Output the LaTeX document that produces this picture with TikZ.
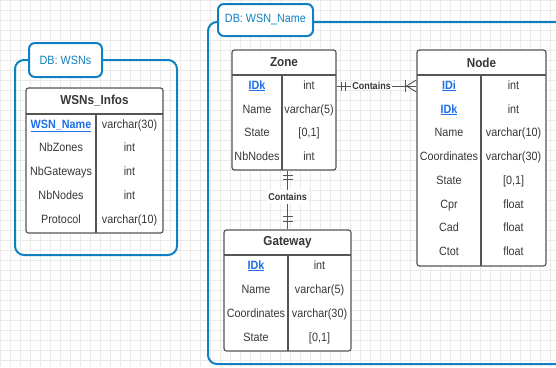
\documentclass[tikz,border=0pt]{standalone}
\usepackage{fontspec}
\setmainfont{Liberation Sans}[FakeStretch=0.9]
\usetikzlibrary{calc}
\definecolor{dbblue}{RGB}{16,128,194}
\definecolor{keyblue}{RGB}{30,110,230}
\definecolor{tblgray}{RGB}{85,85,85}
\definecolor{txtgray}{RGB}{55,55,55}
\newcommand{\pkey}[1]{\underline{#1}}
\tikzset{
  gridline/.style={draw=black!8, line width=0.5pt},
  dbbox/.style={draw=dbblue, line width=2pt, rounded corners=9pt},
  dbtab/.style={draw=dbblue, fill=white, line width=2pt, rounded corners=6pt, text=dbblue, font=\fontsize{12}{14}\selectfont},
  tbl/.style={draw=tblgray, fill=white, line width=1.2pt, rounded corners=2.5pt, inner sep=0pt},
  tline/.style={draw=tblgray, line width=1.2pt},
  hdr/.style={text=txtgray, font=\fontsize{13}{15}\selectfont\bfseries, inner sep=0pt},
  fld/.style={text=txtgray, font=\fontsize{12}{14}\selectfont, inner sep=0pt, text height=8.6pt, text depth=2.5pt},
  keyfld/.style={fld, text=keyblue, font=\fontsize{12}{14}\selectfont\bfseries},
  conn/.style={draw=tblgray, line width=0.9pt},
  rel/.style={fill=white, text=txtgray, font=\fontsize{10}{12}\selectfont\bfseries, inner sep=1pt}
}

\begin{document}
\begin{tikzpicture}[x=1pt, y=-1pt]
			%%%%% START %%%%%
			\useasboundingbox (0,0) rectangle (556,367);
			\clip (0,0) rectangle (556,367);
			\draw[gridline, step=10pt] (-2,-2) grid (556,367);
			
			% DB: WSNs
			\draw[dbbox] (15,60) rectangle (177,255);
			\node[dbtab, minimum width=73pt, minimum height=34pt] (wsns-tab) at (65.5,60) {DB: WSNs};
			
			\node[tbl, minimum width=137pt, minimum height=145pt] (infos) at (94.5,160.5) {};
			\draw[tline] (26,114) -- (163,114);
			\draw[tline] (96,114) -- (96,233);
			\node[hdr] (infos-h) at (94.5,101) {WSNs\_Infos};
			\node[keyfld] (infos-name) at (61,125) {\pkey{WSN\_Name}};
			\node[fld] (infos-name-t) at (129.5,125) {varchar(30)};
			\node[fld] (infos-zones) at (61,148) {NbZones};
			\node[fld] (infos-zones-t) at (129.5,148) {int};
			\node[fld] (infos-gws) at (61,172) {NbGateways};
			\node[fld] (infos-gws-t) at (129.5,172) {int};
			\node[fld] (infos-nodes) at (61,196) {NbNodes};
			\node[fld] (infos-nodes-t) at (129.5,196) {int};
			\node[fld] (infos-proto) at (61,220) {Protocol};
			\node[fld] (infos-proto-t) at (129.5,220) {varchar(10)};
			
			% DB: WSN_Name
			\draw[dbbox] (208,22) rectangle (566,364);
			\node[dbtab, minimum width=95pt, minimum height=32pt] (wsn-tab) at (265.5,20) {DB: WSN\_Name};
			
			% Zone
			\node[tbl, minimum width=104pt, minimum height=120pt] (zone) at (284,110) {};
			\draw[tline] (232,75) -- (336,75);
			\draw[tline] (282,75) -- (282,170);
			\node[hdr] (zone-h) at (284,62.5) {Zone};
			\node[keyfld] (zone-idk) at (257,86) {\pkey{IDk}};
			\node[fld] (zone-idk-t) at (309,86) {int};
			\node[fld] (zone-name) at (257,110) {Name};
			\node[fld] (zone-name-t) at (309,110) {varchar(5)};
			\node[fld] (zone-state) at (257,133) {State};
			\node[fld] (zone-state-t) at (309,133) {[0,1]};
			\node[fld] (zone-nb) at (257,157) {NbNodes};
			\node[fld] (zone-nb-t) at (309,157) {int};
			
			% Node
			\node[tbl, minimum width=129pt, minimum height=216pt] (node) at (481.5,158) {};
			\draw[tline] (417,75) -- (546,75);
			\draw[tline] (481,75) -- (481,266);
			\node[hdr] (node-h) at (481.5,62.5) {Node};
			\node[keyfld] (node-idi) at (449,86) {\pkey{IDi}};
			\node[fld] (node-idi-t) at (513.5,86) {int};
			\node[keyfld] (node-idk) at (449,110) {\pkey{IDk}};
			\node[fld] (node-idk-t) at (513.5,110) {int};
			\node[fld] (node-name) at (449,133) {Name};
			\node[fld] (node-name-t) at (513.5,133) {varchar(10)};
			\node[fld] (node-coord) at (449,157) {Coordinates};
			\node[fld] (node-coord-t) at (513.5,157) {varchar(30)};
			\node[fld] (node-state) at (449,181) {State};
			\node[fld] (node-state-t) at (513.5,181) {[0,1]};
			\node[fld] (node-cpr) at (449,205) {Cpr};
			\node[fld] (node-cpr-t) at (513.5,205) {float};
			\node[fld] (node-cad) at (449,228) {Cad};
			\node[fld] (node-cad-t) at (513.5,228) {float};
			\node[fld] (node-ctot) at (449,252) {Ctot};
			\node[fld] (node-ctot-t) at (513.5,252) {float};
			
			% Gateway
			\node[tbl, minimum width=127pt, minimum height=121pt] (gw) at (287.5,290.5) {};
			\draw[tline] (224,255) -- (351,255);
			\draw[tline] (288,255) -- (288,351);
			\node[hdr] (gw-h) at (287.5,242.5) {Gateway};
			\node[keyfld] (gw-idk) at (256,266) {\pkey{IDk}};
			\node[fld] (gw-idk-t) at (319.5,266) {int};
			\node[fld] (gw-name) at (256,290) {Name};
			\node[fld] (gw-name-t) at (319.5,290) {varchar(5)};
			\node[fld] (gw-coord) at (256,314) {Coordinates};
			\node[fld] (gw-coord-t) at (319.5,314) {varchar(30)};
			\node[fld] (gw-state) at (256,338) {State};
			\node[fld] (gw-state-t) at (319.5,338) {[0,1]};
			
			% Zone -- Node
			\coordinate (zn-a) at (zone.east |- zone-idk);
			\coordinate (zn-b) at (node.west |- zone-idk);
			\draw[conn] (zn-a) -- (zn-b);
			\draw[conn] ($(zn-a)+(5,-4.5)$) -- ($(zn-a)+(5,4.5)$);
			\draw[conn] ($(zn-a)+(9,-4.5)$) -- ($(zn-a)+(9,4.5)$);
			\draw[conn] ($(zn-b)+(-11,-6)$) -- ($(zn-b)+(-11,6)$);
			\draw[conn] ($(zn-b)+(0,-6)$) -- ($(zn-b)+(-10,0)$) -- ($(zn-b)+(0,6)$);
			\node[rel] (zn-lbl) at (371.5,85.5) {Contains};
			
			% Zone -- Gateway
			\coordinate (zg-a) at (gw.north |- zone.south);
			\draw[conn] (zg-a) -- (gw.north);
			\draw[conn] ($(zg-a)+(-5,5)$) -- ($(zg-a)+(5,5)$);
			\draw[conn] ($(zg-a)+(-5,9)$) -- ($(zg-a)+(5,9)$);
			\draw[conn] ($(gw.north)+(-5,-13)$) -- ($(gw.north)+(5,-13)$);
			\draw[conn] ($(gw.north)+(-5,-8)$) -- ($(gw.north)+(5,-8)$);
			\node[rel, inner ysep=3pt] (zg-lbl) at (287.5,197) {Contains};
			
			%%%%% END %%%%%
\end{tikzpicture}
\end{document}
